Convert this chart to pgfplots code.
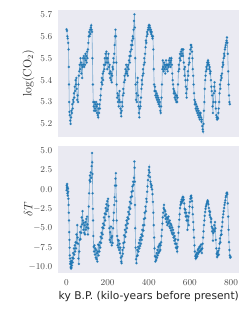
\documentclass[border=0pt]{standalone}
\usepackage{pgfplots}
\pgfplotsset{compat=1.18}
\usepackage{fontspec}
\newfontfamily\dejavu{DejaVu Sans}
\definecolor{tabblue}{RGB}{31,119,180}
\definecolor{sbbg}{RGB}{234,234,242}
\definecolor{ticktxt}{RGB}{70,70,70}
\pgfplotsset{
 myax/.style={
  scale only axis, width=181pt,
  anchor=south west,
  axis background/.style={fill=sbbg},
  axis line style={draw=none},
  major tick length=0pt,
  xmin=-40, xmax=840,
  xtick={0,200,400,600,800},
  tick label style={font=\fontsize{9}{10}\selectfont, text=ticktxt},
  yticklabel style={xshift=-2.5pt, /pgf/number format/.cd, fixed, fixed zerofill, precision=1},
  xticklabel style={yshift=-3pt},
  every axis y label/.style={at={(axis description cs:-0.166,0.5)}, rotate=90, anchor=center, font=\fontsize{12}{14}\selectfont, text=black!85},
  every axis x label/.style={at={(axis description cs:0.5,0)}, anchor=center, yshift=-23.5pt, font=\fontsize{10.7}{12}\selectfont\dejavu, text=black!85},
 },
 ser/.style={tabblue, line width=0.6pt, draw opacity=0.55, mark=*, mark size=1.0pt, mark options={draw=none, fill=tabblue, fill opacity=0.95}}
}
\begin{document}
\begin{tikzpicture}
\useasboundingbox (0,0) rectangle (250pt,315pt);
\begin{axis}[myax, at={(58.3pt,177.7pt)}, height=127.3pt,
  ymin=5.139, ymax=5.72, ytick={5.2,5.3,5.4,5.5,5.6,5.7}, xticklabels={},
  ylabel={$\log(\mathrm{CO}_2)$}]
\addplot[ser] coordinates {(0,5.632)(2,5.625)(4,5.600)(6,5.590)(8,5.570)(10,5.540)(11,5.460)(12,5.380)(13,5.300)(14,5.255)(16,5.240)(18,5.215)(20,5.200)(22,5.230)(24,5.260)(26,5.250)(28,5.290)(30,5.270)(32,5.310)(34,5.300)(36,5.340)(38,5.320)(40,5.370)(42,5.350)(44,5.400)(46,5.380)(48,5.410)(50,5.360)(52,5.310)(54,5.330)(56,5.300)(58,5.380)(60,5.420)(62,5.440)(64,5.470)(66,5.450)(68,5.500)(70,5.480)(72,5.430)(74,5.470)(76,5.410)(78,5.460)(80,5.500)(82,5.470)(84,5.510)(86,5.460)(88,5.500)(90,5.470)(92,5.520)(94,5.490)(96,5.510)(98,5.480)(100,5.530)(102,5.500)(104,5.540)(106,5.570)(108,5.600)(110,5.620)(112,5.600)(114,5.630)(116,5.610)(118,5.640)(120,5.650)(122,5.630)(124,5.620)(126,5.500)(128,5.380)(130,5.300)(132,5.280)(134,5.260)(136,5.300)(138,5.270)(140,5.290)(142,5.260)(144,5.300)(146,5.280)(148,5.250)(150,5.290)(152,5.240)(154,5.230)(156,5.270)(158,5.250)(160,5.290)(162,5.270)(164,5.310)(166,5.330)(168,5.360)(170,5.390)(172,5.410)(174,5.380)(176,5.430)(178,5.400)(180,5.440)(182,5.470)(184,5.450)(186,5.500)(188,5.470)(190,5.520)(192,5.480)(194,5.530)(196,5.500)(198,5.450)(200,5.500)(202,5.480)(204,5.520)(206,5.460)(208,5.430)(210,5.470)(212,5.410)(214,5.440)(216,5.400)(218,5.430)(220,5.390)(222,5.420)(224,5.460)(226,5.450)(228,5.500)(230,5.480)(232,5.520)(234,5.560)(236,5.600)(238,5.630)(240,5.600)(242,5.480)(244,5.380)(246,5.320)(248,5.340)(250,5.300)(252,5.330)(254,5.280)(256,5.310)(258,5.350)(260,5.300)(262,5.270)(264,5.250)(266,5.235)(268,5.260)(270,5.300)(272,5.280)(274,5.330)(276,5.360)(278,5.340)(280,5.390)(282,5.420)(284,5.400)(286,5.450)(288,5.430)(290,5.470)(292,5.440)(294,5.430)(296,5.460)(298,5.420)(300,5.470)(302,5.450)(304,5.490)(306,5.510)(308,5.480)(310,5.530)(312,5.510)(314,5.560)(316,5.540)(318,5.580)(320,5.560)(322,5.600)(324,5.590)(326,5.630)(328,5.670)(330,5.700)(332,5.640)(334,5.500)(336,5.380)(338,5.310)(340,5.340)(342,5.300)(344,5.390)(346,5.410)(348,5.330)(350,5.280)(352,5.250)(354,5.230)(356,5.270)(358,5.300)(360,5.280)(362,5.320)(364,5.360)(366,5.400)(368,5.380)(370,5.420)(372,5.450)(374,5.430)(376,5.470)(378,5.500)(380,5.480)(382,5.520)(384,5.550)(386,5.580)(388,5.570)(390,5.600)(392,5.620)(394,5.610)(396,5.630)(398,5.640)(400,5.650)(402,5.630)(404,5.650)(406,5.640)(408,5.620)(410,5.630)(412,5.610)(414,5.620)(416,5.600)(418,5.590)(420,5.600)(422,5.540)(424,5.450)(426,5.380)(428,5.350)(430,5.370)(432,5.330)(434,5.350)(436,5.320)(438,5.340)(440,5.310)(442,5.330)(444,5.300)(446,5.320)(448,5.290)(450,5.310)(452,5.280)(454,5.300)(456,5.260)(458,5.250)(460,5.280)(462,5.320)(464,5.380)(466,5.450)(468,5.490)(470,5.460)(472,5.440)(474,5.480)(476,5.450)(478,5.470)(480,5.430)(482,5.460)(484,5.490)(486,5.470)(488,5.450)(490,5.470)(492,5.440)(494,5.470)(496,5.460)(498,5.490)(500,5.470)(502,5.500)(504,5.480)(506,5.460)(508,5.490)(510,5.500)(512,5.470)(514,5.430)(516,5.400)(518,5.380)(520,5.360)(522,5.340)(524,5.350)(526,5.320)(528,5.340)(530,5.310)(532,5.330)(534,5.300)(536,5.330)(538,5.300)(540,5.320)(542,5.380)(544,5.440)(546,5.470)(548,5.450)(550,5.500)(552,5.520)(554,5.490)(556,5.530)(558,5.510)(560,5.540)(562,5.520)(564,5.540)(566,5.510)(568,5.540)(570,5.480)(572,5.450)(574,5.420)(576,5.460)(578,5.400)(580,5.370)(582,5.340)(584,5.320)(586,5.360)(588,5.400)(590,5.440)(592,5.420)(594,5.470)(596,5.500)(598,5.480)(600,5.520)(602,5.540)(604,5.560)(606,5.560)(608,5.550)(610,5.530)(612,5.500)(614,5.450)(616,5.420)(618,5.380)(620,5.340)(622,5.310)(624,5.290)(626,5.300)(628,5.270)(630,5.290)(632,5.260)(634,5.280)(636,5.250)(638,5.270)(640,5.240)(642,5.260)(644,5.230)(646,5.250)(648,5.220)(650,5.240)(652,5.250)(654,5.230)(656,5.210)(658,5.220)(660,5.190)(662,5.175)(664,5.165)(666,5.200)(668,5.260)(670,5.300)(672,5.360)(674,5.400)(676,5.420)(678,5.440)(680,5.460)(682,5.450)(684,5.480)(686,5.470)(688,5.490)(690,5.480)(692,5.470)(694,5.450)(696,5.460)(698,5.430)(700,5.440)(702,5.400)(704,5.370)(706,5.350)(708,5.330)(710,5.280)(712,5.250)(714,5.300)(716,5.340)(718,5.370)(720,5.390)(722,5.350)(724,5.300)(726,5.270)(728,5.240)(730,5.230)(732,5.220)(734,5.230)(736,5.225)(738,5.250)(740,5.270)(742,5.300)(744,5.340)(746,5.380)(748,5.360)(750,5.400)(752,5.420)(754,5.410)(756,5.430)(758,5.460)(760,5.480)(762,5.470)(764,5.500)(766,5.520)(768,5.510)(770,5.540)(772,5.550)(774,5.560)(776,5.570)(778,5.580)(780,5.595)(782,5.570)(784,5.520)(786,5.440)(788,5.380)(790,5.330)(792,5.300)(794,5.290)};
\end{axis}
\begin{axis}[myax, at={(58.3pt,42.3pt)}, height=126.7pt,
  ymin=-10.73, ymax=5.6, ytick={-10,-7.5,-5,-2.5,0,2.5,5},
  ylabel={$\delta T$}, xlabel={ky B.P. (kilo-years before present)}]
\addplot[ser] coordinates {(0,-0.1)(1,0.5)(2,0.2)(3,0.7)(4,-0.5)(5,0.3)(6,-0.8)(7,0.1)(8,-0.3)(9,-1.2)(10,-2.0)(11,-3.0)(12,-4.0)(13,-5.5)(14,-6.5)(15,-7.5)(16,-8.5)(17,-8.9)(18,-9.6)(19,-9.3)(20,-10.0)(21,-9.6)(22,-10.2)(23,-9.5)(24,-10.1)(25,-9.2)(26,-9.8)(28,-8.8)(30,-9.4)(32,-8.2)(34,-8.9)(36,-7.6)(38,-8.4)(40,-7.2)(42,-8.0)(44,-6.8)(46,-7.6)(48,-5.8)(50,-6.9)(52,-4.6)(54,-6.2)(56,-7.0)(58,-8.9)(60,-9.6)(62,-8.0)(64,-6.5)(66,-5.5)(68,-6.4)(70,-4.8)(72,-5.6)(74,-3.6)(76,-4.5)(78,-2.8)(80,-4.0)(82,-5.2)(84,-4.3)(86,-5.6)(88,-4.6)(90,-5.8)(92,-4.2)(94,-5.2)(96,-3.8)(98,-4.9)(100,-3.5)(102,-4.5)(104,-5.8)(106,-5.0)(108,-2.2)(110,-0.5)(112,1.2)(114,1.8)(116,1.0)(118,2.2)(120,1.5)(122,3.0)(124,4.7)(125,3.5)(126,2.0)(127,-0.5)(128,-2.5)(129,-4.0)(130,-6.0)(132,-7.4)(134,-8.0)(136,-7.2)(138,-8.4)(140,-7.6)(142,-8.8)(144,-7.8)(146,-9.0)(148,-8.2)(150,-9.3)(152,-8.0)(154,-7.1)(156,-8.5)(158,-7.2)(160,-8.0)(162,-6.8)(164,-7.5)(166,-6.1)(168,-6.9)(170,-5.6)(172,-6.3)(174,-4.9)(176,-5.8)(178,-4.4)(180,-5.0)(182,-3.6)(184,-4.6)(186,-3.1)(188,-4.0)(190,-2.4)(192,-3.2)(194,-1.9)(196,-2.8)(198,-1.5)(200,-2.6)(202,-1.2)(204,-2.1)(206,-3.5)(208,-5.0)(210,-6.5)(212,-5.5)(214,-6.8)(216,-4.8)(218,-6.2)(220,-7.2)(222,-6.0)(224,-6.9)(226,-5.0)(228,-4.0)(230,-3.0)(232,-2.0)(234,-1.0)(236,0.5)(238,1.4)(240,2.1)(241,0.5)(242,-1.5)(244,-4.0)(246,-6.0)(248,-7.2)(250,-6.5)(252,-7.5)(254,-6.6)(256,-7.8)(258,-7.0)(260,-8.2)(262,-7.5)(264,-8.8)(266,-9.3)(268,-9.5)(270,-8.6)(272,-7.8)(274,-8.3)(276,-6.9)(278,-7.5)(280,-5.9)(282,-6.8)(284,-5.2)(286,-6.1)(288,-4.6)(290,-5.5)(292,-4.0)(294,-5.0)(296,-3.6)(298,-4.4)(300,-2.9)(302,-3.8)(304,-2.3)(306,-3.2)(308,-1.6)(310,-2.5)(312,-1.0)(314,-1.8)(316,-0.3)(318,-0.9)(320,0.4)(322,-0.2)(324,1.0)(326,0.6)(328,1.5)(330,3.6)(331,2.8)(332,1.0)(333,-2.0)(334,-5.0)(336,-7.5)(338,-9.0)(340,-9.5)(342,-8.6)(344,-7.8)(346,-8.5)(348,-7.4)(350,-8.0)(352,-6.9)(354,-7.6)(356,-6.5)(358,-7.3)(360,-6.2)(362,-7.0)(364,-5.8)(366,-6.5)(368,-5.2)(370,-6.0)(372,-4.6)(374,-5.3)(376,-3.8)(378,-4.6)(380,-3.0)(382,-3.7)(384,-2.2)(386,-2.8)(388,-1.2)(390,-1.6)(392,-0.3)(394,0.4)(396,1.2)(398,1.8)(400,2.5)(402,2.9)(404,2.2)(406,1.6)(408,1.0)(410,0.7)(412,0.3)(414,0.5)(416,0.0)(418,-0.6)(420,-1.6)(422,-3.0)(424,-4.6)(426,-6.2)(428,-7.6)(430,-8.6)(432,-9.3)(434,-8.7)(436,-9.1)(438,-8.2)(440,-8.8)(442,-7.8)(444,-8.5)(446,-7.4)(448,-8.2)(450,-7.2)(452,-8.0)(454,-7.0)(456,-7.8)(458,-7.2)(460,-6.8)(462,-6.0)(464,-5.2)(466,-4.4)(468,-3.6)(470,-3.0)(472,-2.4)(474,-2.0)(476,-2.6)(478,-3.4)(480,-2.8)(482,-3.8)(484,-3.2)(486,-4.2)(488,-3.6)(490,-4.6)(492,-3.8)(494,-4.4)(496,-3.5)(498,-4.2)(500,-4.8)(502,-4.0)(504,-5.0)(506,-4.4)(508,-5.3)(510,-4.6)(512,-5.6)(514,-4.9)(516,-5.8)(518,-5.2)(520,-6.2)(522,-5.6)(524,-6.6)(526,-6.0)(528,-7.0)(530,-6.4)(532,-7.5)(534,-7.0)(536,-7.6)(538,-8.0)(540,-7.4)(542,-6.5)(544,-5.6)(546,-4.8)(548,-3.9)(550,-3.2)(552,-2.4)(554,-2.0)(556,-1.6)(558,-1.8)(560,-1.3)(562,-1.6)(564,-1.0)(566,-1.4)(568,-1.0)(570,-1.3)(572,-1.8)(574,-2.5)(576,-3.0)(578,-2.6)(580,-3.5)(582,-3.0)(584,-4.0)(586,-3.4)(588,-5.2)(590,-4.0)(592,-3.5)(594,-4.6)(596,-3.0)(598,-2.2)(600,-1.6)(602,-1.2)(604,-0.9)(606,-0.8)(608,-1.1)(610,-1.5)(612,-2.3)(614,-3.2)(616,-4.2)(618,-5.2)(620,-6.2)(622,-7.2)(624,-8.0)(626,-8.6)(628,-8.9)(630,-8.4)(632,-8.8)(634,-8.2)(636,-8.6)(638,-7.8)(640,-8.3)(642,-7.6)(644,-8.1)(646,-7.4)(648,-8.0)(650,-7.3)(652,-7.9)(654,-7.1)(656,-7.7)(658,-8.2)(660,-7.6)(662,-7.0)(664,-6.2)(666,-5.4)(668,-4.6)(670,-4.0)(672,-3.4)(674,-2.9)(676,-2.5)(678,-2.2)(680,-2.0)(682,-1.8)(684,-1.6)(686,-1.4)(688,-1.6)(690,-1.9)(692,-2.4)(694,-2.8)(696,-3.3)(698,-2.9)(700,-3.6)(702,-4.2)(704,-3.8)(706,-4.8)(708,-5.4)(710,-5.0)(712,-6.6)(714,-5.6)(716,-5.2)(718,-4.6)(720,-5.4)(722,-4.2)(724,-5.0)(726,-6.5)(728,-7.6)(730,-8.3)(732,-8.7)(734,-8.1)(736,-8.5)(738,-7.9)(740,-8.4)(742,-7.6)(744,-7.0)(746,-6.3)(748,-6.8)(750,-5.9)(752,-5.3)(754,-5.8)(756,-4.8)(758,-4.2)(760,-3.6)(762,-3.2)(764,-2.8)(766,-2.4)(768,-2.0)(770,-1.7)(772,-1.4)(774,-1.0)(776,-0.8)(778,-0.5)(780,-0.4)(782,-0.6)(784,-1.8)(786,-3.5)(788,-5.2)(790,-6.8)(792,-7.8)(794,-8.5)(796,-8.8)(798,-8.7)};
\end{axis}
\end{tikzpicture}
\end{document}
